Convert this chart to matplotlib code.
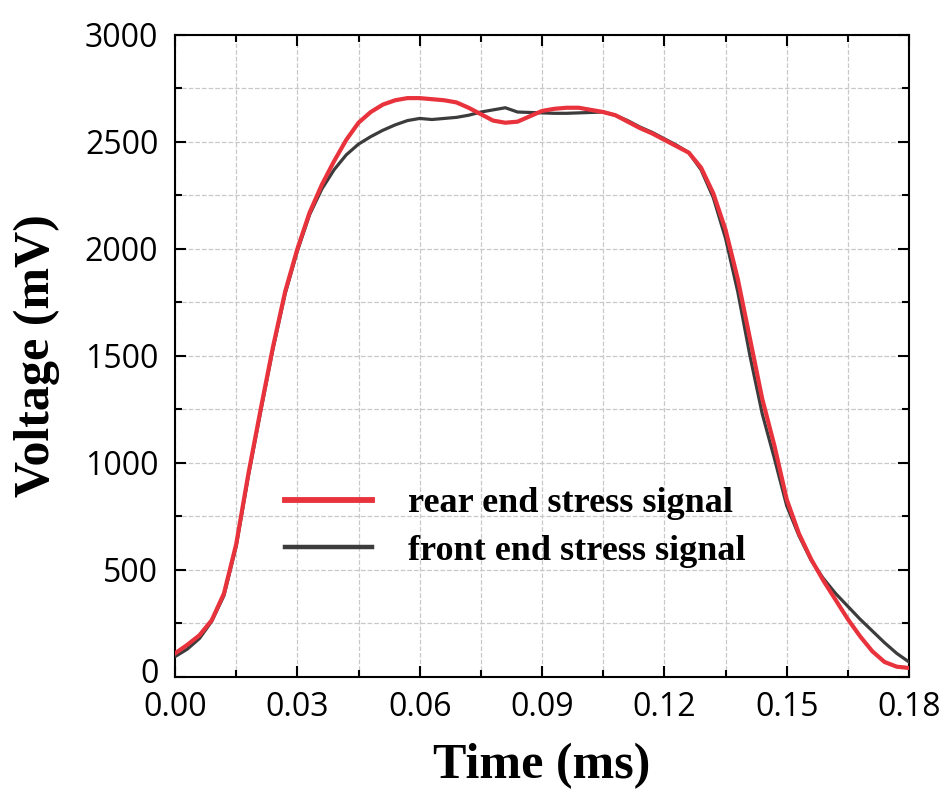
import matplotlib
matplotlib.use("Agg")
import matplotlib.pyplot as plt
import matplotlib.transforms as mtransforms
import numpy as np
from matplotlib.ticker import MultipleLocator

# time axis (ms), one reading every 0.003 ms
time_ms = np.round(np.arange(0, 0.1801, 0.003), 3)

# rear end stress signal (mV)
rear_mv = [110, 150, 195, 265, 390, 620, 950, 1250, 1540, 1800,
           2000, 2170, 2300, 2410, 2510, 2590, 2640, 2675, 2695, 2705,
           2705, 2700, 2695, 2685, 2660, 2630, 2600, 2590, 2595, 2620,
           2645, 2655, 2660, 2660, 2650, 2640, 2625, 2595, 2565, 2540,
           2510, 2480, 2450, 2380, 2260, 2090, 1860, 1580, 1300, 1080,
           830, 670, 550, 450, 360, 270, 190, 120, 70, 48, 42]

# front end stress signal (mV)
front_mv = [95, 130, 180, 260, 380, 610, 940, 1240, 1530, 1790,
            1990, 2160, 2280, 2370, 2440, 2490, 2525, 2555, 2580, 2600,
            2610, 2605, 2610, 2615, 2625, 2640, 2650, 2660, 2640, 2638,
            2636, 2634, 2634, 2636, 2638, 2640, 2625, 2600, 2570, 2545,
            2515, 2485, 2450, 2370, 2240, 2050, 1800, 1500, 1230, 1020,
            800, 660, 545, 460, 390, 330, 270, 215, 160, 110, 70]

x_ticks = [0.00, 0.03, 0.06, 0.09, 0.12, 0.15, 0.18]
y_ticks = [0, 500, 1000, 1500, 2000, 2500, 3000]

red = "#e8323c"
dark = "#3c3c3c"
serif = ["Liberation Serif", "DejaVu Serif"]

fig = plt.figure(figsize=(9.48, 7.97), dpi=100)
ax = fig.add_axes([0.1846, 0.1506, 0.7743, 0.8055])

ax.plot(time_ms, front_mv, color=dark, lw=2.3, label="front end stress signal", zorder=3)
ax.plot(time_ms, rear_mv, color=red, lw=3.0, label="rear end stress signal", zorder=4)

ax.set_xlim(0, 0.18)
ax.set_ylim(0, 3000)
ax.set_xticks(x_ticks)
ax.set_yticks(y_ticks)
ax.set_xticklabels([f"{v:.2f}" for v in x_ticks], family=["Liberation Sans Narrow", "Open Sans"], fontsize=23)
ax.set_yticklabels([str(v) for v in y_ticks], family=["Open Sans", "DejaVu Sans"], fontsize=23)
ax.xaxis.set_minor_locator(MultipleLocator(0.015))
ax.yaxis.set_minor_locator(MultipleLocator(250))

ax.tick_params(which="both", direction="in", top=True, right=True, width=1.5)
ax.tick_params(which="major", length=8)
ax.tick_params(which="minor", length=5)
ax.tick_params(axis="x", which="major", pad=10)
ax.tick_params(axis="y", which="major", pad=12)
for s in ax.spines.values():
    s.set_linewidth(1.5)

# lift the "0" label a little so it clears "0.00"
zero_lab = ax.yaxis.get_major_ticks()[0].label1
zero_lab.set_transform(zero_lab.get_transform() +
                       mtransforms.ScaledTranslation(0, 5 / 72, fig.dpi_scale_trans))

ax.grid(which="both", color="#c8c8c8", linestyle="--", linewidth=0.9)
ax.set_axisbelow(True)

ax.set_xlabel("Time (ms)", family=serif, fontweight="bold", fontsize=36, labelpad=14)
ax.set_ylabel("Voltage (mV)", family=serif, fontweight="bold", fontsize=36, labelpad=18)

h, l = ax.get_legend_handles_labels()
leg = ax.legend(h[::-1], l[::-1], loc="center left", bbox_to_anchor=(0.15, 0.233),
                frameon=False, borderpad=0, borderaxespad=0, handlelength=2.4,
                handletextpad=1.0, labelspacing=0.4,
                prop={"family": serif, "weight": "bold", "size": 26})
for line in leg.get_lines():
    line.set_linewidth(line.get_linewidth() * 1.4)

fig.savefig("out.png", dpi=100)
